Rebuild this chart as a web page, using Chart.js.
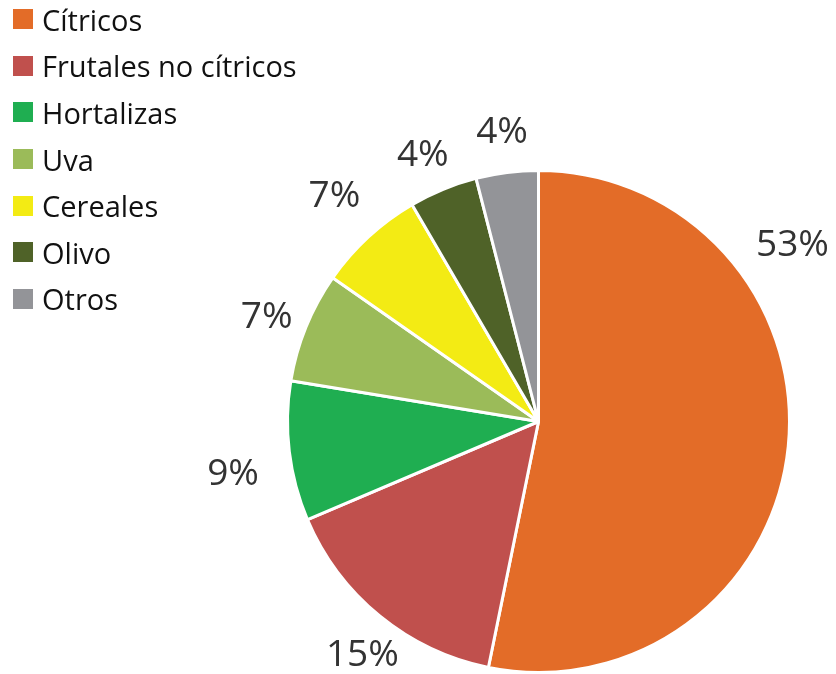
<!DOCTYPE html>
<html>
<head>
<meta charset="utf-8">
<script src="https://cdn.jsdelivr.net/npm/chart.js@4/dist/chart.umd.min.js"></script>
<style>
  html, body { margin: 0; padding: 0; background: #fff; }
  #wrap { position: relative; width: 836px; height: 674px; }
  #legend { position: absolute; left: 13px; top: -4px; font-family: "Open Sans", sans-serif; font-size: 29px; color: #111; }
  #legend div { height: 46.6px; display: flex; align-items: center; }
  #legend span.box { width: 20px; height: 20px; margin-right: 9px; display: inline-block; flex: none; }
</style>
</head>
<body>
<div id="wrap">
  <canvas id="pieChart" width="836" height="674"></canvas>
  <div id="legend"></div>
</div>
<script>
const categories = ["Cítricos", "Frutales no cítricos", "Hortalizas", "Uva", "Cereales", "Olivo", "Otros"];
const shares = [53.2, 15.4, 9.0, 7.1, 6.9, 4.4, 4.0];
const shareLabels = ["53%", "15%", "9%", "7%", "7%", "4%", "4%"];
const colors = ["#E36C28", "#C0504D", "#1FAE51", "#9BBB59", "#F3EB14", "#4F6228", "#939498"];

// label placement tweaks (degrees / px beyond the rim)
const labelAngleShift = [-40.5, -2.3, -3, -1.2, 0.5, -1.2, 0];
const labelGap = [58, 42, 59, 40, 53, 39, 40];

const legendBox = document.querySelector("#legend");
categories.forEach((name, i) => {
  const row = document.createElement("div");
  row.innerHTML = `<span class="box" style="background:${colors[i]}"></span>${name}`;
  legendBox.appendChild(row);
});

const outsideLabels = {
  id: "outsideLabels",
  afterDatasetsDraw(chart) {
    const ctx = chart.ctx;
    const arcs = chart.getDatasetMeta(0).data;
    ctx.save();
    ctx.font = "37px 'Open Sans', sans-serif";
    ctx.fillStyle = "#333333";
    ctx.textAlign = "center";
    ctx.textBaseline = "middle";
    arcs.forEach((arc, i) => {
      const mid = (arc.startAngle + arc.endAngle) / 2 + labelAngleShift[i] * Math.PI / 180;
      const r = arc.outerRadius + labelGap[i];
      ctx.fillText(shareLabels[i], arc.x + Math.cos(mid) * r, arc.y + Math.sin(mid) * r);
    });
    ctx.restore();
  },
};

const chartBlock = document.querySelector("#pieChart").getContext("2d");
new Chart(chartBlock, {
  type: "pie",
  data: {
    labels: categories,
    datasets: [
      {
        data: shares,
        backgroundColor: colors,
        borderColor: "#ffffff",
        borderWidth: 3,
      },
    ],
  },
  options: {
    responsive: false,
    animation: false,
    layout: { padding: { top: 169, bottom: 0, left: 286, right: 45 } },
    plugins: {
      legend: { display: false },
      tooltip: { enabled: false },
    },
  },
  plugins: [outsideLabels],
});
</script>
</body>
</html>
